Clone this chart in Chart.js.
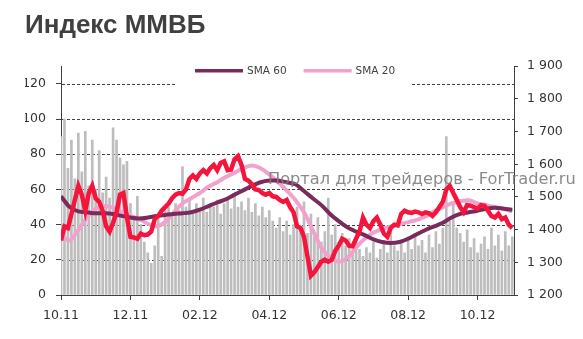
<!DOCTYPE html>
<html>
<head>
<meta charset="utf-8">
<script src="https://cdn.jsdelivr.net/npm/chart.js@4.4.1/dist/chart.umd.min.js"></script>
<style>
    html, body { margin: 0; padding: 0; background: #fff; }
    #chart { display: block; }
</style>
</head>
<body>
<canvas id="chart" width="583" height="339"></canvas>
<script>
// months since October 2011, one tick every two months
const tickLabels = ['10.11', '12.11', '02.12', '04.12', '06.12', '08.12', '10.12'];
const indexStep = 0.1;   // months between index / volume samples
const smaStep = 0.25;    // months between SMA samples

// MICEX index (right axis)
const indexValues = [
    1367, 1410, 1405, 1448, 1491, 1534, 1507, 1458, 1512, 1534,
    1496, 1485, 1458, 1410, 1394, 1421, 1453, 1507, 1512, 1437,
    1378, 1376, 1372, 1388, 1383, 1385, 1394, 1432, 1442, 1458,
    1469, 1480, 1496, 1507, 1512, 1510, 1523, 1555, 1566, 1555,
    1572, 1582, 1572, 1588, 1598, 1582, 1604, 1609, 1582, 1584,
    1615, 1625, 1598, 1555, 1550, 1539, 1523, 1521, 1512, 1507,
    1512, 1502, 1500, 1491, 1485, 1491, 1469, 1453, 1410, 1405,
    1378, 1318, 1259, 1270, 1286, 1302, 1308, 1302, 1308, 1335,
    1351, 1372, 1367, 1351, 1349, 1372, 1394, 1437, 1415, 1405,
    1426, 1437, 1415, 1388, 1378, 1405, 1415, 1413, 1448, 1458,
    1453, 1451, 1455, 1453, 1448, 1453, 1450, 1442, 1453, 1469,
    1485, 1523, 1534, 1512, 1491, 1469, 1453, 1475, 1473, 1469,
    1464, 1475, 1473, 1458, 1442, 1437, 1448, 1432, 1437, 1415,
    1405
];

// trading volume (left axis)
const volumeValues = [
    90, 100, 72, 88, 66, 92, 70, 93, 62, 88,
    60, 82, 58, 67, 55, 95, 88, 78, 74, 76,
    52, 44, 56, 40, 30, 24, 18, 28, 45, 22,
    48, 50, 47, 52, 48, 73, 50, 54, 46, 52,
    48, 55, 47, 52, 50, 54, 46, 52, 55, 49,
    56, 50, 53, 48, 55, 47, 52, 45, 50, 44,
    48, 42, 38, 44, 36, 42, 34, 40, 50, 38,
    53, 35, 46, 33, 44, 30, 36, 55, 34, 40,
    30, 35, 28, 32, 24, 30, 26, 22, 27, 24,
    30, 21, 26, 31, 24, 37, 28, 25, 30, 24,
    33, 26, 35, 28, 31, 24, 34, 27, 36, 29,
    38, 90, 42, 52, 38, 35, 30, 37, 27, 32,
    24, 29, 33, 26, 38, 28, 34, 25, 36, 28,
    33
];

const sma60Values = [
    1502, 1469, 1456, 1453, 1450, 1450, 1448, 1442, 1437, 1434,
    1437, 1442, 1445, 1448, 1450, 1453, 1461, 1472, 1483, 1493,
    1507, 1520, 1534, 1545, 1550, 1550, 1545, 1539, 1518, 1496,
    1475, 1448, 1426, 1407, 1394, 1383, 1370, 1362, 1359, 1362,
    1372, 1386, 1399, 1410, 1421, 1437, 1448, 1453, 1458, 1464,
    1467, 1464, 1461
];

const sma20Values = [
    1383, 1367, 1399, 1437, 1464, 1472, 1467, 1453, 1442, 1432,
    1418, 1410, 1423, 1453, 1480, 1496, 1512, 1531, 1545, 1561,
    1574, 1588, 1596, 1588, 1569, 1545, 1520, 1491, 1453, 1399,
    1345, 1316, 1302, 1313, 1345, 1372, 1391, 1402, 1410, 1417,
    1423, 1430, 1440, 1456, 1469, 1480, 1487, 1490, 1480, 1475,
    1469, 1464, 1456
];

const gridValues = [20, 40, 60, 80, 100, 120];
const legendNames = ['SMA 60', 'SMA 20'];

const toPoints = (values, step) => values.map((y, i) => ({ x: i * step, y: y }));

const axisColor = '#404040';
const labelFont = { family: 'DejaVu Sans', size: 12.5 };

// dashed grid of the left axis, drawn as small filled dashes
const dashedGrid = {
    id: 'dashedGrid',
    beforeDatasetsDraw(chart) {
        const ctx = chart.ctx;
        const area = chart.chartArea;
        const yL = chart.scales.yL;
        const top = yL.top;
        const bottom = yL.bottom;
        ctx.save();
        ctx.fillStyle = '#404040';
        gridValues.forEach((v) => {
            const y = Math.round(bottom - (bottom - top) * (v - yL.min) / (yL.max - yL.min));
            for (let x = area.left + 1; x < area.right - 1; x += 5) {
                // the top line is hidden behind the legend box
                if (v === 120 && x > 175 && x < 410) continue;
                ctx.fillRect(x, y, Math.min(3, area.right - x), 1);
            }
        });
        ctx.restore();
    }
};

// legend sits inside the plot on a white patch, like the Excel original
const insideLegend = {
    id: 'insideLegend',
    beforeDatasetsDraw(chart) {
        const ctx = chart.ctx;
        const y = chart.chartArea.top + 4.5;
        ctx.save();
        ctx.font = '10.5px "DejaVu Sans"';
        ctx.textBaseline = 'middle';
        ctx.textAlign = 'left';
        let x = 195;
        legendNames.forEach((name) => {
            const ds = chart.data.datasets.find(d => d.label === name);
            ctx.strokeStyle = ds.borderColor;
            ctx.lineWidth = 3.5;
            ctx.beginPath();
            ctx.moveTo(x, y);
            ctx.lineTo(x + 48, y);
            ctx.stroke();
            ctx.fillStyle = axisColor;
            ctx.fillText(name, x + 52, y + 0.5);
            x += 52 + ctx.measureText(name).width + 17;
        });
        ctx.restore();
    }
};

const watermark = {
    id: 'watermark',
    afterDatasetsDraw(chart) {
        const ctx = chart.ctx;
        const text = 'Портал для трейдеров - ForTrader.ru';
        ctx.save();
        ctx.font = '16px "DejaVu Sans"';
        const size = 16 * 308 / ctx.measureText(text).width;
        ctx.font = size.toFixed(2) + 'px "DejaVu Sans"';
        ctx.fillStyle = 'rgba(125, 125, 125, 0.9)';
        ctx.textBaseline = 'middle';
        ctx.textAlign = 'left';
        ctx.fillText(text, 268, 180);
        ctx.restore();
    }
};

const keepSteps = (step) => (s) => {
    s.ticks = s.ticks.filter(t => Math.abs(t.value / step - Math.round(t.value / step)) < 1e-6);
};

new Chart(document.getElementById('chart'), {
    type: 'line',
    data: {
        datasets: [
            {
                label: 'Индекс ММВБ',
                data: toPoints(indexValues, indexStep),
                yAxisID: 'yR',
                borderColor: '#F5143C',
                borderWidth: 4.5,
                pointRadius: 0,
                tension: 0,
            },
            {
                label: 'SMA 60',
                data: toPoints(sma60Values, smaStep),
                yAxisID: 'yR',
                borderColor: '#7A2B5C',
                borderWidth: 4,
                pointRadius: 0,
                tension: 0.3,
            },
            {
                label: 'SMA 20',
                data: toPoints(sma20Values, smaStep),
                yAxisID: 'yR',
                borderColor: '#F2A0CC',
                borderWidth: 4,
                pointRadius: 0,
                tension: 0.3,
            },
            {
                type: 'bar',
                label: 'Объём',
                data: toPoints(volumeValues, indexStep),
                yAxisID: 'yL',
                backgroundColor: '#BDBDBD',
                borderWidth: 0,
                barThickness: 2,
            },
        ],
    },
    options: {
        responsive: false,
        animation: false,
        devicePixelRatio: 1,
        layout: { padding: { left: 25, right: 0, top: 0, bottom: 0 } },
        plugins: {
            tooltip: { enabled: false },
            legend: { display: false },
            title: {
                display: true,
                text: 'Индекс ММВБ',
                align: 'start',
                color: axisColor,
                font: { family: 'Liberation Sans', size: 26, weight: 'bold' },
                padding: { top: 10, bottom: 25 },
            },
        },
        scales: {
            x: {
                type: 'linear',
                min: 0,
                max: 13.05,
                bounds: 'data',
                offset: false,
                ticks: {
                    stepSize: 2,
                    includeBounds: false,
                    autoSkip: false,
                    maxRotation: 0,
                    padding: 8,
                    color: '#333',
                    font: labelFont,
                    callback: (v) => tickLabels[Math.round(v / 2)],
                },
                afterBuildTicks: keepSteps(2),
                grid: { drawOnChartArea: false, offset: false, tickLength: 5, tickColor: axisColor },
                border: { color: axisColor },
                afterFit: (s) => { s.height = 44; },
            },
            yL: {
                position: 'left',
                min: 0,
                max: 130,
                bounds: 'data',
                ticks: { stepSize: 20, includeBounds: false, padding: 10, color: '#333', font: labelFont },
                afterBuildTicks: keepSteps(20),
                grid: { drawOnChartArea: false, tickLength: 5, tickColor: axisColor },
                border: { color: axisColor },
                afterFit: (s) => { s.width = 36; },
            },
            yR: {
                position: 'right',
                min: 1200,
                max: 1900,
                bounds: 'data',
                ticks: {
                    stepSize: 100,
                    padding: 9,
                    color: '#333',
                    font: labelFont,
                    callback: (v) => String(v).replace(/\B(?=(\d{3})+(?!\d))/g, ' '),
                },
                grid: { drawOnChartArea: false, tickLength: 4, tickColor: axisColor },
                border: { color: axisColor },
                afterFit: (s) => { s.width = 69; },
            },
        },
    },
    plugins: [dashedGrid, insideLegend, watermark],
});
</script>
</body>
</html>
